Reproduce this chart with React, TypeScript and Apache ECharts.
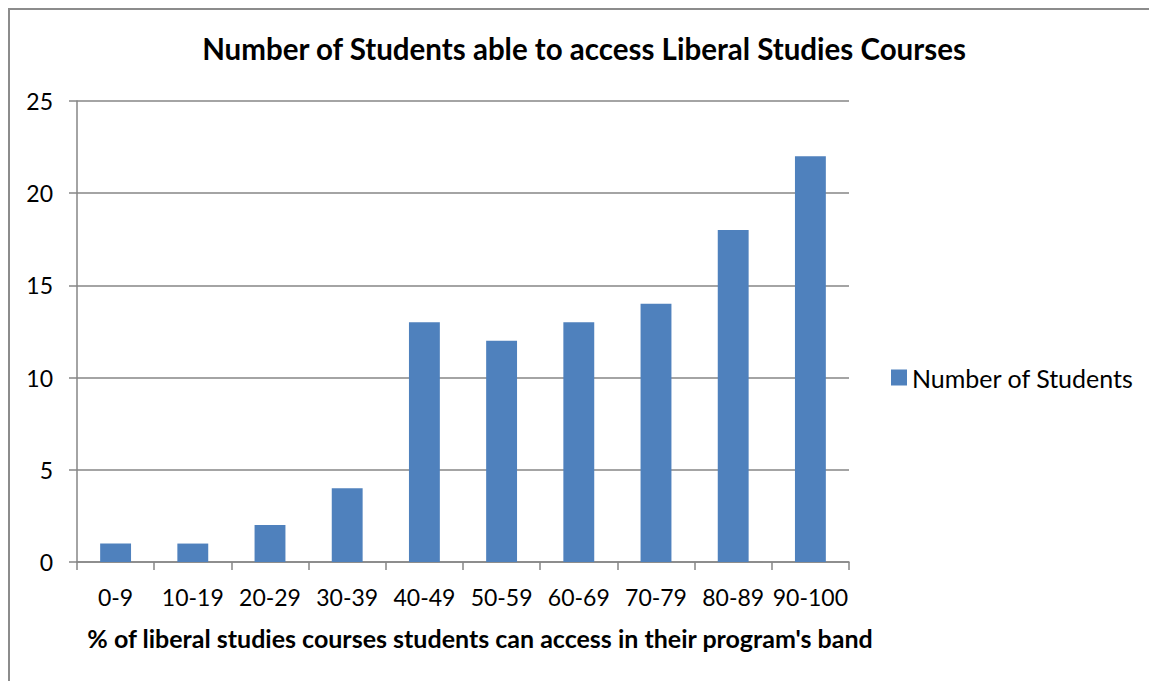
import React, { useEffect, useRef } from "react";
import * as echarts from "echarts";

const categories = ["0-9", "10-19", "20-29", "30-39", "40-49", "50-59", "60-69", "70-79", "80-89", "90-100"];
const students = [1, 1, 2, 4, 13, 12, 13, 14, 18, 22];
const yTicks = { min: 0, max: 25, interval: 5 };

const FONT = "Lato, sans-serif";
const WIDTH = 1149;
const HEIGHT = 681;

export default function App() {
  const ref = useRef<HTMLDivElement>(null);

  useEffect(() => {
    if (!ref.current) return;
    document.body.style.margin = "0";
    const chart = echarts.init(ref.current, undefined, { renderer: "svg" });
    chart.setOption({
      animation: false,
      backgroundColor: "#ffffff",
      textStyle: { fontFamily: FONT },
      grid: { left: 77, right: 300, top: 101, bottom: 119 },
      legend: {
        data: ["Number of Students"],
        left: 891,
        top: 365,
        padding: 0,
        icon: "rect",
        itemWidth: 16,
        itemHeight: 16,
        itemGap: 6,
        textStyle: { fontSize: 25, color: "#000", fontFamily: FONT },
      },
      xAxis: {
        type: "category",
        data: categories,
        axisLine: { lineStyle: { color: "#868686", width: 1.5 } },
        axisTick: { show: true, length: 8, alignWithLabel: false, lineStyle: { color: "#868686", width: 1.5 } },
        axisLabel: { color: "#000", fontSize: 23, margin: 23, interval: 0, fontFamily: FONT },
      },
      yAxis: {
        type: "value",
        min: yTicks.min,
        max: yTicks.max,
        interval: yTicks.interval,
        axisLine: { show: true, lineStyle: { color: "#868686", width: 1.5 } },
        axisTick: { show: true, length: 8, lineStyle: { color: "#868686", width: 1.5 } },
        axisLabel: { color: "#000", fontSize: 23, margin: 24, fontFamily: FONT },
        splitLine: { lineStyle: { color: "#868686", width: 1.5 } },
      },
      series: [
        {
          name: "Number of Students",
          type: "bar",
          data: students,
          barWidth: "40%",
          itemStyle: { color: "#4F81BD" },
        },
      ],
      graphic: [
        // chart frame: only its top and left edges fall inside the view
        { type: "line", shape: { x1: 9, y1: 8, x2: 9, y2: HEIGHT }, style: { stroke: "#8c8c8c", lineWidth: 2 } },
        { type: "line", shape: { x1: 8, y1: 9, x2: WIDTH, y2: 9 }, style: { stroke: "#8c8c8c", lineWidth: 2 } },
        {
          type: "text",
          x: 584,
          y: 48,
          style: {
            text: "Number of Students able to access Liberal Studies Courses",
            font: `bold 29.5px ${FONT}`,
            fill: "#000",
            align: "center",
            verticalAlign: "middle",
          },
        },
        {
          type: "text",
          x: 480,
          y: 638,
          style: {
            text: "% of liberal studies courses students can access in their program's band",
            font: `bold 25px ${FONT}`,
            fill: "#000",
            align: "center",
            verticalAlign: "middle",
          },
        },
      ],
    });
    return () => chart.dispose();
  }, []);

  return <div ref={ref} style={{ width: WIDTH, height: HEIGHT }} />;
}
